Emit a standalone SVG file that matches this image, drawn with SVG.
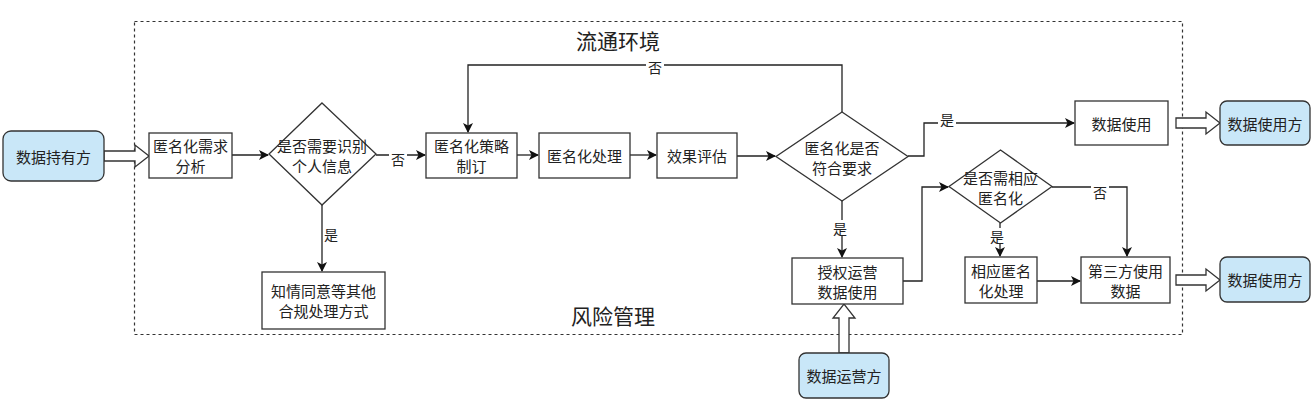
<svg xmlns="http://www.w3.org/2000/svg" width="1315" height="417" viewBox="0 0 1315 417">
<style>
.b{fill:#fff;stroke:#333;stroke-width:1.3}
.p{fill:#c9e7f8;stroke:#333;stroke-width:1.3}
.t{font-family:"Noto Sans CJK SC","Noto Sans",sans-serif;font-size:15px;fill:#222;text-anchor:middle;dominant-baseline:central}
.l{font-family:"Noto Sans CJK SC","Noto Sans",sans-serif;font-size:14px;fill:#222;text-anchor:middle;dominant-baseline:central}
.h{font-family:"Noto Sans CJK SC","Noto Sans",sans-serif;font-size:21px;fill:#222;text-anchor:middle;dominant-baseline:central}
.c{fill:none;stroke:#222;stroke-width:1.3}
.ha{fill:#fff;stroke:#333;stroke-width:1.3}
.lb{fill:#fff}
</style>
<defs>
<marker id="ar" viewBox="0 0 10 10" refX="9" refY="5" markerWidth="10" markerHeight="10" markerUnits="userSpaceOnUse" orient="auto">
<path d="M0,0 L10,5 L0,10 L2.5,5 Z" fill="#111"/>
</marker>
</defs>
<rect x="134.5" y="21.5" width="1048" height="313" fill="none" stroke="#333" stroke-width="1.2" stroke-dasharray="3 3"/>
<text class="h" x="618" y="40">流通环境</text>
<text class="h" x="613" y="315">风险管理</text>

<g id="connectors">
<path class="c" d="M232,155 H268" marker-end="url(#ar)"/>
<path class="c" d="M376,155 H425" marker-end="url(#ar)"/>
<rect class="lb" x="389" y="151" width="18" height="16"/>
<text class="l" x="398" y="159">否</text>
<path class="c" d="M322,205 V271" marker-end="url(#ar)"/>
<text class="l" x="331" y="234">是</text>
<path class="c" d="M517,155 H538" marker-end="url(#ar)"/>
<path class="c" d="M630,155 H656" marker-end="url(#ar)"/>
<path class="c" d="M737,156 H775" marker-end="url(#ar)"/>
<path class="c" d="M842,112 V65 H468 V132" marker-end="url(#ar)"/>
<rect class="lb" x="646" y="59" width="18" height="15"/>
<text class="l" x="655" y="67">否</text>
<path class="c" d="M842,201 V257" marker-end="url(#ar)"/>
<rect class="lb" x="831" y="220" width="18" height="16"/>
<text class="l" x="840" y="228">是</text>
<path class="c" d="M908,156 H924 V123 H1074" marker-end="url(#ar)"/>
<rect class="lb" x="938" y="111" width="18" height="16"/>
<text class="l" x="947" y="119">是</text>
<path class="c" d="M903,281 H922 V187 H948" marker-end="url(#ar)"/>
<path class="c" d="M1052,187 H1127 V256" marker-end="url(#ar)"/>
<rect class="lb" x="1091" y="184" width="18" height="16"/>
<text class="l" x="1100" y="192">否</text>
<path class="c" d="M1000,223 V256" marker-end="url(#ar)"/>
<rect class="lb" x="989" y="228" width="18" height="15"/>
<text class="l" x="997" y="236">是</text>
<path class="c" d="M1037,281 H1080" marker-end="url(#ar)"/>
<path class="ha" d="M104,151 L135,151 L135,145 L149,156 L135,167 L135,161 L104,161 Z"/>
<path class="ha" d="M1176,118 L1206,118 L1206,112 L1220,123 L1206,134 L1206,128 L1176,128 Z"/>
<path class="ha" d="M1176,275 L1206,275 L1206,269 L1220,280 L1206,291 L1206,285 L1176,285 Z"/>
<path class="ha" d="M839,353 L839,318 L833,318 L844,304 L855,318 L849,318 L849,353 Z"/>
</g>

<g id="holder">
<rect class="p" x="3" y="131" width="101" height="50" rx="8"/>
<text class="t" x="53.5" y="156">数据持有方</text>
</g>
<g id="need">
<rect class="b" x="149" y="133" width="83" height="45"/>
<text class="t" x="190.5" y="145.5">匿名化需求</text>
<text class="t" x="190.5" y="165.5">分析</text>
</g>
<g id="identify">
<polygon class="b" points="322,103 376,154 322,205 269,154"/>
<text class="t" x="322" y="145">是否需要识别</text>
<text class="t" x="322" y="165">个人信息</text>
</g>
<g id="consent">
<rect class="b" x="262" y="272" width="123" height="57"/>
<text class="t" x="323.5" y="290.5">知情同意等其他</text>
<text class="t" x="323.5" y="310.5">合规处理方式</text>
</g>
<g id="strategy">
<rect class="b" x="426" y="133" width="91" height="45"/>
<text class="t" x="471.5" y="145.5">匿名化策略</text>
<text class="t" x="471.5" y="165.5">制订</text>
</g>
<g id="process">
<rect class="b" x="539" y="133" width="91" height="45"/>
<text class="t" x="584.5" y="155.5">匿名化处理</text>
</g>
<g id="evaluate">
<rect class="b" x="657" y="133" width="80" height="45"/>
<text class="t" x="697" y="155.5">效果评估</text>
</g>
<g id="meets">
<polygon class="b" points="842,112 908,156.5 842,201 776,156.5"/>
<text class="t" x="842" y="147">匿名化是否</text>
<text class="t" x="842" y="167">符合要求</text>
</g>
<g id="datause">
<rect class="b" x="1075" y="101" width="93" height="44"/>
<text class="t" x="1121.5" y="123">数据使用</text>
</g>
<g id="user1">
<rect class="p" x="1220" y="101" width="90" height="44" rx="7"/>
<text class="t" x="1265" y="123">数据使用方</text>
</g>
<g id="authorized">
<rect class="b" x="792" y="258" width="111" height="46"/>
<text class="t" x="847.5" y="271">授权运营</text>
<text class="t" x="847.5" y="291">数据使用</text>
</g>
<g id="needanon">
<polygon class="b" points="1000.5,150 1052,186.5 1000.5,223 949,186.5"/>
<text class="t" x="1000.5" y="177">是否需相应</text>
<text class="t" x="1000.5" y="197">匿名化</text>
</g>
<g id="anonprocess">
<rect class="b" x="965" y="257" width="72" height="46"/>
<text class="t" x="1001" y="270">相应匿名</text>
<text class="t" x="1001" y="290">化处理</text>
</g>
<g id="thirdparty">
<rect class="b" x="1081" y="257" width="89" height="46"/>
<text class="t" x="1125.5" y="270">第三方使用</text>
<text class="t" x="1125.5" y="290">数据</text>
</g>
<g id="user2">
<rect class="p" x="1220" y="257" width="90" height="45" rx="7"/>
<text class="t" x="1265" y="279.5">数据使用方</text>
</g>
<g id="operator">
<rect class="p" x="799" y="353" width="90" height="45" rx="7"/>
<text class="t" x="844" y="375.5">数据运营方</text>
</g>
</svg>
